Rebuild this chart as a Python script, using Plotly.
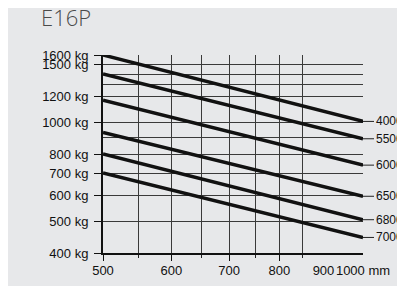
import math
import plotly.graph_objects as go

# ---- data ----
load_centre_mm = [500, 1000]
mast_heights = ["4000", "5500", "6000", "6500", "6800", "7000"]
capacity_at_500 = [1600, 1400, 1165, 930, 800, 700]
capacity_at_1000 = [1005, 890, 740, 595, 505, 446]

y_tick_vals = [400, 500, 600, 700, 800, 1000, 1200, 1500, 1600]
y_tick_text = ["400 kg", "500 kg", "600 kg", "700 kg", "800 kg", "1000 kg", "1200 kg", "1500 kg", "1600 kg"]
y_extra_grid = [900, 1300, 1400]

x_label_vals = [500, 600, 700, 800, 900, 1000]
x_label_text = ["500", "600", "700", "800", "900", "1000 mm"]
x_grid_vals = [550, 600, 650, 700, 750, 800, 850]
x_major_ticks = [500, 600, 700, 800]

FONT = "Liberation Sans, Arial, sans-serif"

fig = go.Figure()
for name, a, b in zip(mast_heights, capacity_at_500, capacity_at_1000):
    fig.add_trace(go.Scatter(x=load_centre_mm, y=[a, b], mode="lines",
                             line=dict(color="#111111", width=3.5),
                             name=name, showlegend=False, hoverinfo="skip"))

# invisible trace to carry the secondary tick axis
fig.add_trace(go.Scatter(x=[500, 1000], y=[400, 400], xaxis="x2", mode="lines",
                         line=dict(width=0), showlegend=False, hoverinfo="skip"))

annotations = []
for name, b in zip(mast_heights, capacity_at_1000):
    annotations.append(dict(x=math.log10(1000), y=math.log10(b), xref="x", yref="y",
                            text=name, showarrow=True, ax=11, ay=0, arrowhead=0,
                            arrowwidth=1, arrowcolor="#222222", xanchor="left",
                            font=dict(family=FONT, size=12, color="#111111")))

W, H = 397, 278
xr = [math.log10(500), math.log10(1000)]
fig.update_layout(
    width=W, height=H,
    margin=dict(l=95, r=42, t=47, b=33),
    paper_bgcolor="#e7e8ea", plot_bgcolor="#e7e8ea",
    title=dict(text="E16P", xref="container", yref="container",
               x=33 / W, xanchor="left", y=1 - 10 / H, yanchor="middle",
               font=dict(family="Open Sans, sans-serif", size=22, color="#4a4a4a", weight=300)),
    annotations=annotations,
    xaxis=dict(type="log", range=xr, tickmode="array", tickvals=x_label_vals,
               ticktext=x_label_text, ticks="", showgrid=False, zeroline=False,
               showline=True, linecolor="#111111", linewidth=1.5,
               tickangle=0, automargin=False,
               tickfont=dict(family=FONT, size=13, color="#111111"),
               ticklabelstandoff=5,
               minor=dict(tickmode="array", tickvals=x_grid_vals, showgrid=True,
                          gridcolor="#3a3a3a", gridwidth=1, ticks="outside",
                          ticklen=3, tickcolor="#222222", tickwidth=1)),
    xaxis2=dict(type="log", range=xr, overlaying="x", anchor="y", side="bottom",
                tickmode="array", tickvals=x_major_ticks, ticks="outside",
                ticklen=7, tickcolor="#111111", tickwidth=1.2, automargin=False,
                showticklabels=False, showgrid=False, zeroline=False, showline=False),
    yaxis=dict(type="log", range=[math.log10(400), math.log10(1600)],
               tickmode="array", tickvals=y_tick_vals, ticktext=y_tick_text,
               ticks="outside", ticklen=7, tickcolor="#111111", tickwidth=1.2,
               showgrid=True, gridcolor="#3a3a3a", gridwidth=1, zeroline=False,
               showline=True, linecolor="#111111", linewidth=2, automargin=False,
               tickfont=dict(family=FONT, size=13, color="#111111"),
               ticklabelstandoff=3,
               minor=dict(tickmode="array", tickvals=y_extra_grid, showgrid=True,
                          gridcolor="#3a3a3a", gridwidth=1, ticks="")),
)

fig.write_html("out.html")
